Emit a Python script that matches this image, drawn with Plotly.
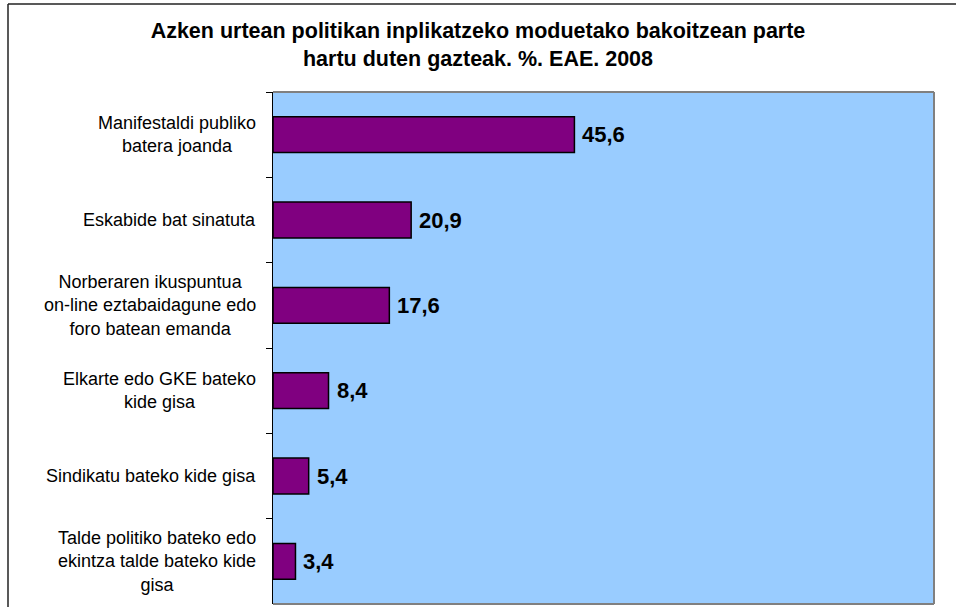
import plotly.graph_objects as go

categories = [
    "Manifestaldi publiko<br>batera joanda",
    "Eskabide bat sinatuta",
    "Norberaren ikuspuntua<br>on-line eztabaidagune edo<br>foro batean emanda",
    "Elkarte edo GKE bateko<br>kide gisa",
    "Sindikatu bateko kide gisa",
    "Talde politiko bateko edo<br>ekintza talde bateko kide<br>gisa",
]
values = [45.6, 20.9, 17.6, 8.4, 5.4, 3.4]
title_text = ("Azken urtean politikan inplikatzeko moduetako bakoitzean parte"
              "<br>hartu duten gazteak. %. EAE. 2008")

W, H = 956, 607
L, R, T, B = 273, 22, 92, 3
pw, ph = W - L - R, H - T - B

fig = go.Figure()
fig.add_trace(go.Bar(
    x=values, y=categories, orientation="h", width=0.42,
    marker=dict(color="#800080", line=dict(color="#000000", width=1.5)),
    hoverinfo="skip",
))

annotations = []
for c, v in zip(categories, values):
    annotations.append(dict(
        x=v, y=c, xref="x", yref="y", xanchor="left", yanchor="middle",
        xshift=6, showarrow=False,
        text="<b>" + f"{v:.1f}".replace(".", ",") + "</b>",
        font=dict(family="Liberation Sans, Arial", size=22, color="#000000"),
    ))
    annotations.append(dict(
        x=0, y=c, xref="paper", yref="y", xanchor="right", yanchor="middle",
        xshift=-15, showarrow=False, align="center", text=c,
        font=dict(family="Liberation Sans, Arial", size=18, color="#000000"),
    ))

def px_x(p):
    return (p - L) / pw

def px_y(p):
    return (H - B - p) / ph

shapes = [
    dict(type="line", xref="paper", yref="paper", x0=0, x1=1, y0=1, y1=1,
         line=dict(color="#808080", width=2)),
    dict(type="line", xref="paper", yref="paper", x0=1, x1=1, y0=0, y1=1,
         line=dict(color="#808080", width=2)),
    dict(type="line", xref="paper", yref="paper", x0=0, x1=1, y0=0, y1=0,
         line=dict(color="#808080", width=2)),
    dict(type="line", xref="paper", yref="paper", x0=px_x(8), x1=px_x(8),
         y0=px_y(4), y1=px_y(612), line=dict(color="#222222", width=1.5)),
    dict(type="line", xref="paper", yref="paper", x0=px_x(8), x1=px_x(960),
         y0=px_y(4), y1=px_y(4), line=dict(color="#222222", width=1.5)),
]

fig.update_layout(
    width=W, height=H,
    margin=dict(l=L, r=R, t=T, b=B, pad=0),
    paper_bgcolor="#FFFFFF", plot_bgcolor="#99CCFF",
    showlegend=False,
    title=dict(text="<b>" + title_text + "</b>", xref="container", x=0.5,
               xanchor="center", yref="container", y=1 - 38 / H, yanchor="top",
               font=dict(family="Liberation Sans, Arial", size=21.5, color="#000000")),
    xaxis=dict(range=[0, 100], visible=False, fixedrange=True),
    yaxis=dict(autorange="reversed", type="category", showticklabels=False,
               ticks="outside", ticklen=6, tickcolor="#000000", tickwidth=1,
               tickson="boundaries", showline=True, linecolor="#000000",
               linewidth=1, showgrid=False, zeroline=False, fixedrange=True),
    annotations=annotations, shapes=shapes,
)

fig.write_html("out.html", config={"displayModeBar": False},
               post_script="document.body.style.margin='0';document.body.style.overflow='hidden';")
